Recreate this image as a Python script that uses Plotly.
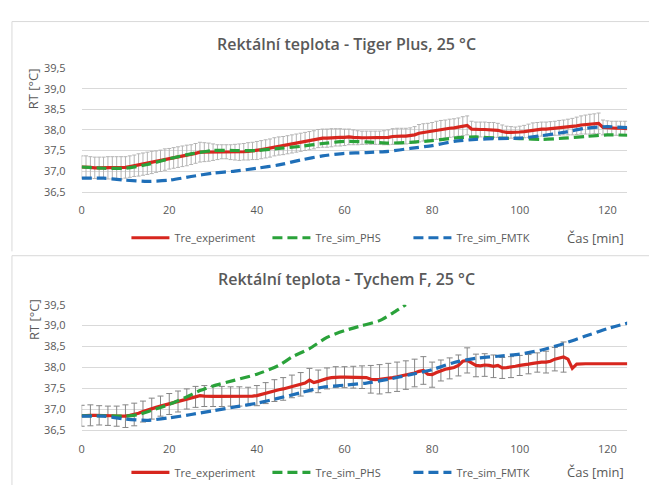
import plotly.graph_objects as go

# ---------------- data ----------------
t_exp = list(range(0, 126))

# Tiger Plus – experiment (1-min)
tp_exp = [37.10,37.10,37.09,37.08,37.08,37.08,37.08,37.08,37.08,37.08,37.09,
          37.11,37.13,37.15,37.17,37.19,37.21,37.23,37.25,37.28,37.30,
          37.32,37.34,37.36,37.38,37.40,37.43,37.46,37.46,37.46,37.46,
          37.46,37.47,37.47,37.46,37.46,37.46,37.47,37.48,37.49,37.50,
          37.52,37.54,37.56,37.59,37.61,37.62,37.64,37.66,37.68,37.70,
          37.72,37.74,37.76,37.79,37.80,37.80,37.81,37.82,37.82,37.82,
          37.83,37.82,37.81,37.81,37.81,37.81,37.81,37.81,37.81,37.82,
          37.84,37.85,37.85,37.85,37.86,37.88,37.92,37.94,37.95,37.97,
          37.99,38.01,38.02,38.04,38.05,38.07,38.09,38.11,38.02,38.01,
          38.01,38.01,38.00,38.00,37.99,37.96,37.94,37.94,37.94,37.95,
          37.96,37.98,38.00,38.01,38.02,38.02,38.03,38.04,38.05,38.06,
          38.07,38.08,38.10,38.12,38.13,38.14,38.15,38.16,38.06,38.05,
          38.04,38.04,38.04,38.04,38.03]
tp_err = [0.27,0.27,0.26,0.26,0.26,0.26,0.27,0.27,0.27,0.27,0.26,
          0.26,0.26,0.27,0.27,0.27,0.27,0.26,0.26,0.26,0.25,
          0.25,0.25,0.25,0.25,0.24,0.24,0.24,0.23,0.22,0.20,
          0.18,0.17,0.17,0.18,0.19,0.20,0.20,0.21,0.21,0.22,
          0.22,0.22,0.22,0.22,0.22,0.22,0.22,0.22,0.22,0.22,
          0.22,0.22,0.22,0.22,0.22,0.22,0.22,0.21,0.21,0.20,
          0.19,0.18,0.17,0.16,0.16,0.16,0.16,0.16,0.17,0.18,
          0.19,0.19,0.19,0.19,0.19,0.20,0.21,0.21,0.21,0.21,
          0.22,0.22,0.22,0.22,0.22,0.22,0.23,0.23,0.19,0.18,
          0.18,0.18,0.18,0.18,0.17,0.16,0.15,0.14,0.13,0.14,
          0.15,0.16,0.17,0.17,0.17,0.17,0.17,0.17,0.18,0.18,
          0.19,0.20,0.21,0.22,0.23,0.24,0.24,0.25,0.18,0.17,
          0.17,0.17,0.17,0.17,0.17]

t_sim = list(range(0, 126, 5))
tp_phs = [37.10,37.07,37.07,37.16,37.30,37.42,37.50,37.50,37.50,37.55,37.60,37.67,37.72,
          37.71,37.68,37.70,37.74,37.80,37.83,37.80,37.79,37.77,37.80,37.84,37.88,37.87]
tp_fmtk = [36.83,36.83,36.78,36.75,36.78,36.87,36.95,37.00,37.07,37.15,37.27,37.37,37.43,
           37.45,37.48,37.55,37.62,37.72,37.77,37.79,37.80,37.86,37.94,38.04,38.08,38.05]

# Tychem F – experiment (1-min)
ty_exp = [36.85,36.86,36.86,36.86,36.86,36.85,36.85,36.85,36.84,36.84,36.84,
          36.86,36.88,36.91,36.95,36.99,37.02,37.05,37.08,37.11,37.13,
          37.16,37.19,37.22,37.25,37.27,37.30,37.33,37.32,37.31,37.31,
          37.31,37.31,37.31,37.31,37.31,37.31,37.31,37.31,37.32,37.33,
          37.36,37.39,37.42,37.45,37.47,37.49,37.52,37.55,37.58,37.60,
          37.63,37.70,37.64,37.67,37.71,37.74,37.76,37.77,37.77,37.77,
          37.77,37.77,37.77,37.77,37.76,37.72,37.71,37.72,37.73,37.75,
          37.76,37.78,37.80,37.82,37.84,37.87,37.91,37.93,37.84,37.83,
          37.88,37.93,37.96,37.98,38.00,38.05,38.15,38.17,38.10,38.05,
          38.04,38.06,38.05,38.03,38.05,37.99,38.00,38.01,38.03,38.05,
          38.06,38.08,38.10,38.12,38.13,38.13,38.15,38.20,38.22,38.25,
          38.20,37.98,38.08,38.09,38.09,38.09,38.09,38.09,38.09,38.09,
          38.09,38.09,38.09,38.09,38.09]
t_err_ty = list(range(0, 111, 2))
ty_err = [0.25,0.25,0.23,0.23,0.24,0.27,0.27,0.25,0.25,0.24,0.25,0.25,0.24,0.25,
          0.25,0.24,0.24,0.23,0.23,0.22,0.24,0.25,0.26,0.27,0.27,0.28,0.28,0.27,
          0.25,0.25,0.25,0.26,0.27,0.33,0.35,0.35,0.35,0.34,0.33,0.33,0.30,0.25,
          0.25,0.25,0.30,0.27,0.27,0.27,0.25,0.25,0.24,0.23,0.23,0.26,0.28,0.36]

t_phs_ty = [0,5,10,13,16,20,24,27,30,35,40,45,48,52,56,60,64,68,71,74]
ty_phs = [36.85,36.85,36.84,36.88,36.98,37.12,37.30,37.45,37.56,37.70,37.84,38.05,38.25,
          38.45,38.72,38.88,39.00,39.12,39.30,39.50]
ty_fmtk = [36.84,36.84,36.77,36.74,36.80,36.88,36.97,37.06,37.15,37.27,37.40,37.53,37.58,
           37.63,37.72,37.83,37.95,38.12,38.22,38.27,38.32,38.42,38.57,38.75,38.93,39.07]

titles = ["Rektální teplota - Tiger Plus, 25 °C", "Rektální teplota - Tychem F, 25 °C"]
names = ["Tre_experiment", "Tre_sim_PHS", "Tre_sim_FMTK"]
x_ticks = [0, 20, 40, 60, 80, 100, 120]

# ---------------- style ----------------
W, H = 649, 492
RED, GREEN, BLUE = "#d7261e", "#2aa23a", "#1f6fb8"
GRID = "#d9d9d9"
TXT = "#595959"
FONT = "Open Sans"
DASH = "10px,5px"

fig = go.Figure()

def px_x(p):
    return p / W

def px_y(p):
    return 1 - p / H

panels = [
    dict(xa="x", ya="y", leg="legend", exp=tp_exp, err_t=t_exp, err=tp_err, err_y=tp_exp,
         phs_t=t_sim, phs=tp_phs, fm_t=t_sim, fm=tp_fmtk, errw=2, errc="#b4b4b4"),
    dict(xa="x2", ya="y2", leg="legend2", exp=ty_exp, err_t=t_err_ty, err=ty_err,
         err_y=[ty_exp[t] for t in t_err_ty],
         phs_t=t_phs_ty, phs=ty_phs, fm_t=t_sim, fm=ty_fmtk, errw=3, errc="#858585"),
]

for p in panels:
    fig.add_trace(go.Scatter(x=p["err_t"], y=p["err_y"], mode="markers",
                             marker=dict(size=1, opacity=0), showlegend=False, hoverinfo="skip",
                             error_y=dict(type="data", array=p["err"], visible=True,
                                          color=p["errc"], thickness=1, width=p["errw"]),
                             xaxis=p["xa"], yaxis=p["ya"]))
    fig.add_trace(go.Scatter(x=t_exp, y=p["exp"], mode="lines", name=names[0],
                             line=dict(color=RED, width=3.2), legend=p["leg"],
                             xaxis=p["xa"], yaxis=p["ya"]))
    fig.add_trace(go.Scatter(x=p["phs_t"], y=p["phs"], mode="lines", name=names[1],
                             line=dict(color=GREEN, width=3.2, dash=DASH, shape="spline", smoothing=0.6),
                             legend=p["leg"], xaxis=p["xa"], yaxis=p["ya"]))
    fig.add_trace(go.Scatter(x=p["fm_t"], y=p["fm"], mode="lines", name=names[2],
                             line=dict(color=BLUE, width=3.2, dash=DASH, shape="spline", smoothing=0.6),
                             legend=p["leg"], xaxis=p["xa"], yaxis=p["ya"]))

xdom = [px_x(79), px_x(627)]
common_x = dict(range=[0, 124.5], tickvals=x_ticks, showgrid=False, zeroline=False,
                showline=True, linecolor=GRID, linewidth=1, ticks="",
                tickfont=dict(family=FONT, size=11, color=TXT), ticklabelstandoff=8)
common_y = dict(range=[36.5, 39.5], dtick=0.5, tick0=36.5, tickformat=".1f",
                showgrid=True, gridcolor=GRID, gridwidth=1, zeroline=False, showline=False,
                ticks="", tickfont=dict(family=FONT, size=11, color=TXT), ticklabelstandoff=15)

leg_common = dict(orientation="h", xanchor="left", yanchor="middle",
                  font=dict(family=FONT, size=11, color=TXT), bgcolor="rgba(0,0,0,0)",
                  entrywidth=88, entrywidthmode="pixels", itemwidth=38, itemclick=False)

fig.update_layout(
    width=W, height=H, margin=dict(l=0, r=0, t=0, b=0),
    paper_bgcolor="white", plot_bgcolor="white", separators=", ",
    font=dict(family=FONT, color=TXT),
    xaxis=dict(domain=xdom, anchor="y", **common_x),
    yaxis=dict(domain=[px_y(189.5), px_y(62)], anchor="x", **common_y),
    xaxis2=dict(domain=xdom, anchor="y2", **common_x),
    yaxis2=dict(domain=[px_y(435.7), px_y(306)], anchor="x2", **common_y),
    legend=dict(x=px_x(124), y=px_y(237), **leg_common),
    legend2=dict(x=px_x(124), y=px_y(479), **leg_common),
    showlegend=True,
)

# titles, axis titles, x-axis title
for title, ty, rty, lgy in [(titles[0], 37, 83, 237), (titles[1], 280, 321, 479)]:
    fig.add_annotation(text=title, x=px_x(345), y=px_y(ty), xref="paper", yref="paper",
                       showarrow=False, xanchor="center", yanchor="middle",
                       font=dict(family=FONT, size=16, color=TXT, weight=600))
    fig.add_annotation(text="RT [°C]", x=px_x(31), y=px_y(rty), xref="paper", yref="paper",
                       showarrow=False, textangle=-90, xanchor="center", yanchor="middle",
                       font=dict(family=FONT, size=13, color=TXT))
    fig.add_annotation(text="Čas [min]", x=px_x(595), y=px_y(lgy), xref="paper", yref="paper",
                       showarrow=False, xanchor="center", yanchor="middle",
                       font=dict(family=FONT, size=13, color=TXT))

# chart-area borders
for y0, y1 in [(14, 251), (255.5, 492)]:
    fig.add_shape(type="line", xref="paper", yref="paper", x0=px_x(9), x1=1, y0=px_y(y0), y1=px_y(y0),
                  line=dict(color=GRID, width=1))
    fig.add_shape(type="line", xref="paper", yref="paper", x0=px_x(9), x1=px_x(9), y0=px_y(y0), y1=px_y(y1),
                  line=dict(color=GRID, width=1))

fig.write_html("out.html")
